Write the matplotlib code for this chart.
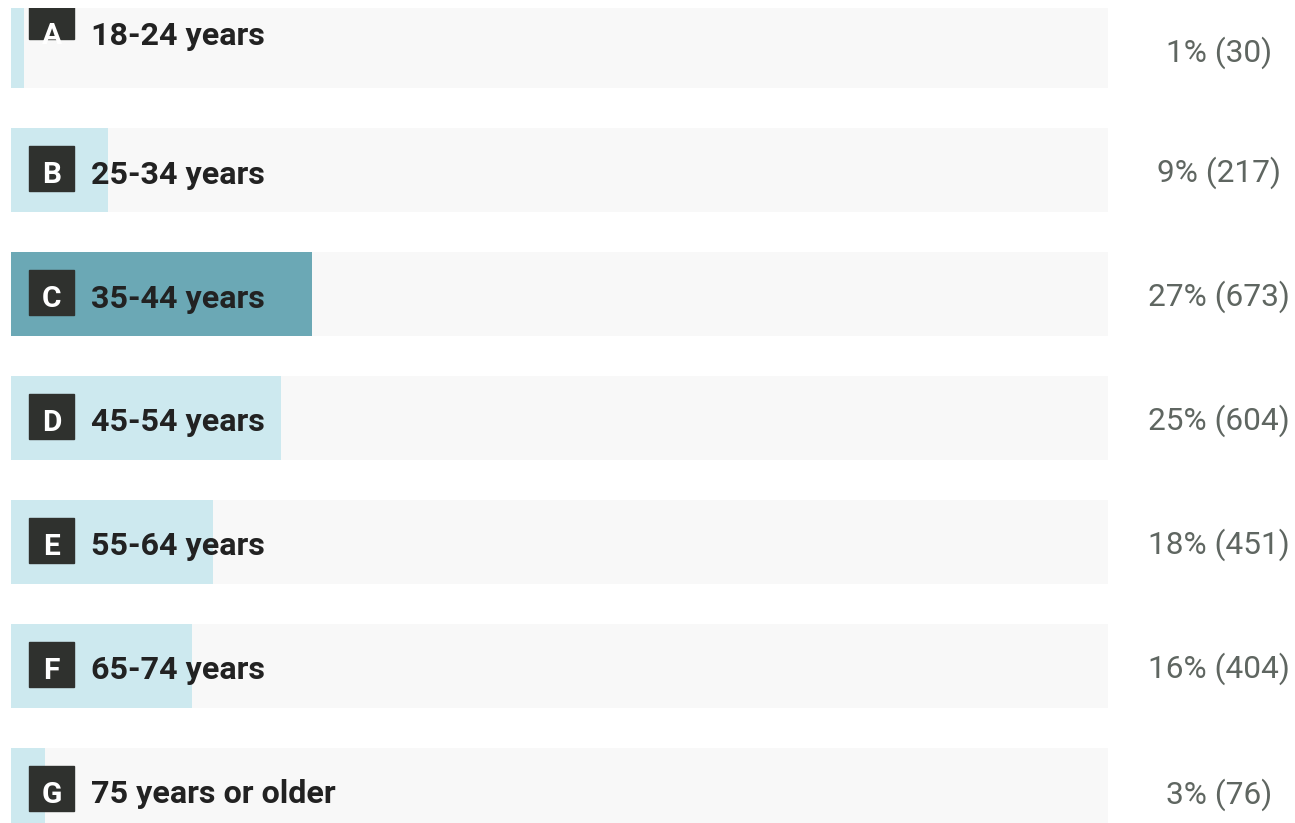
import matplotlib
matplotlib.use("Agg")
from matplotlib import pyplot as plt
from matplotlib.patches import Rectangle

# data
letters = ["A", "B", "C", "D", "E", "F", "G"]
labels = ["18-24 years", "25-34 years", "35-44 years", "45-54 years",
          "55-64 years", "65-74 years", "75 years or older"]
counts = [30, 217, 673, 604, 451, 404, 76]
percents = [1, 9, 27, 25, 18, 16, 3]
highlight = "C"

total = sum(counts)
shares = [c / total for c in counts]

# layout in pixels (figure is 1295 x 823 at dpi 100)
W, H = 1295, 823
track_left, track_right = 11, 1108
row_top_center = 46      # centre of first bar in pixels
row_step = 124           # pixels between rows
bar_px = 84
clip_top = 8

track_w = track_right - track_left

fig = plt.figure(figsize=(W / 100, H / 100), dpi=100)
ax = fig.add_axes([0, 0, 1, (H - clip_top) / H])
ax.set_xlim(-track_left / track_w, (W - track_left) / track_w)
ax.set_ylim((H - row_top_center) / row_step, (clip_top - row_top_center) / row_step)
ax.axis("off")

px_x = 1 / track_w      # one pixel in x data units
px_y = 1 / row_step     # one pixel in y data units

ypos = list(range(len(labels)))
bar_h = bar_px / row_step

# grey track
ax.barh(ypos, [1] * len(ypos), height=bar_h, color="#f8f8f8", zorder=1)
# value bars
colors = ["#6ba8b5" if l == highlight else "#cde9ef" for l in letters]
ax.barh(ypos, shares, height=bar_h, color=colors, zorder=2)

# the first row is drawn shifted in the source picture
text_shift = {"A": -14.5}
box_shift = {"A": -28}
value_shift = {"A": 4, "G": 2}

box_px = 45
for y, letter, label, pct, cnt in zip(ypos, letters, labels, percents, counts):
    ts = text_shift.get(letter, 0) * px_y
    bs = box_shift.get(letter, 0) * px_y
    vs = value_shift.get(letter, 0) * px_y
    # letter box
    ax.add_patch(Rectangle((18 * px_x, y - 1.5 * px_y - box_px / 2 * px_y + bs),
                           box_px * px_x, box_px * px_y,
                           color="#2f312e", zorder=3))
    ax.text(40.5 * px_x, y + 13 * px_y + ts, letter, color="white",
            fontsize=21.5, fontweight="bold", family="Roboto",
            ha="center", va="baseline", zorder=4)
    ax.text(80 * px_x, y + 13.5 * px_y + ts, label, color="#222222",
            fontsize=23.2, fontweight="bold", family="Roboto",
            ha="left", va="baseline", zorder=4)
    ax.text((1219 - track_left) * px_x, y + 11.5 * px_y + vs, f"{pct}% ({cnt})",
            color="#5f6661", fontsize=22.8, family="Roboto",
            ha="center", va="baseline", zorder=4, clip_on=False)

fig.savefig("out.png", dpi=100, facecolor="white")
